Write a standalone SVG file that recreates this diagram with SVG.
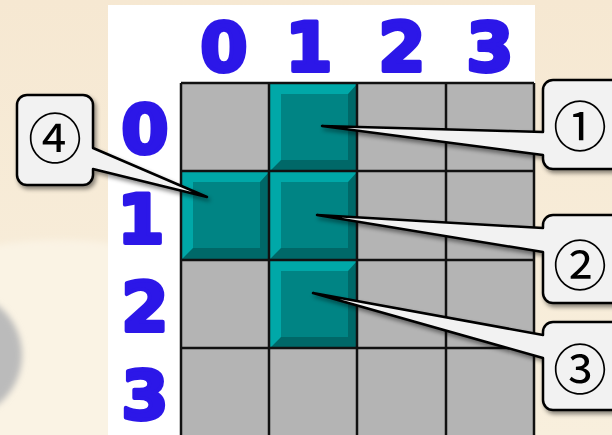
<svg xmlns="http://www.w3.org/2000/svg" width="612" height="435" viewBox="0 0 612 435">
<defs>
  <linearGradient id="bg" x1="0" y1="0" x2="0" y2="1">
    <stop offset="0" stop-color="#f6e8d2"/>
    <stop offset="1" stop-color="#f8efdd"/>
  </linearGradient>
  <filter id="blur" x="-50%" y="-50%" width="200%" height="200%"><feGaussianBlur stdDeviation="3"/></filter>
  <filter id="sh" x="-20%" y="-20%" width="140%" height="140%"><feDropShadow dx="2" dy="3" stdDeviation="2" flood-color="#000" flood-opacity="0.45"/></filter>
  <g id="teal">
    <rect x="0" y="0" width="87" height="87" fill="#006868"/>
    <polygon points="0,0 87,0 78,10 11,10 11,76 0,87" fill="#00a8a8"/>
    <rect x="11" y="10" width="67" height="66" fill="#008484"/>
  </g>
</defs>
<style>
  .lbl{font-family:"DejaVu Sans",sans-serif;font-weight:bold;font-size:68px;fill:#2c17e8;stroke:#2c17e8;stroke-width:4;stroke-linejoin:round;text-anchor:middle}
  .cell{fill:#b4b4b4}
  .grid{stroke:#111;stroke-width:2.5;fill:none}
  .box{fill:#f2f2f2;stroke:#000;stroke-width:2.5;stroke-linejoin:round;filter:url(#sh)}
  .num{font-family:"Noto Sans CJK JP","DejaVu Sans",sans-serif;font-size:54px;fill:#000;text-anchor:middle;dominant-baseline:central}
</style>
<!-- background -->
<rect x="0" y="0" width="612" height="435" fill="url(#bg)"/>
<ellipse cx="60" cy="520" rx="330" ry="280" fill="#faf3e4" filter="url(#blur)"/>
<circle cx="-41" cy="355" r="63" fill="#bbbbbb" filter="url(#blur)"/>
<rect x="108" y="5" width="427" height="430" fill="#ffffff"/>

<!-- labels -->
<g id="col-labels">
  <text class="lbl" x="224" y="71">0</text>
  <text class="lbl" x="309" y="71">1</text>
  <text class="lbl" x="402" y="71">2</text>
  <text class="lbl" x="490" y="71">3</text>
</g>
<g id="row-labels">
  <text class="lbl" x="145" y="153">0</text>
  <text class="lbl" x="141" y="243">1</text>
  <text class="lbl" x="145" y="331">2</text>
  <text class="lbl" x="145" y="419">3</text>
</g>

<!-- grid -->
<g id="grid">
  <rect class="cell" x="181" y="83" width="353" height="360"/>
  <use href="#teal" x="270" y="84"/>
  <use href="#teal" x="182" y="172"/>
  <use href="#teal" x="270" y="172"/>
  <use href="#teal" x="270" y="261"/>
  <path class="grid" d="M181,83 V440 M269,83 V440 M357,83 V440 M446,83 V440 M534,83 V440 M181,83 H534 M181,171 H534 M181,260 H534 M181,348 H534"/>
</g>

<!-- callouts (box + pointer) -->
<g id="connectors">
  <g id="callout1">
    <path class="box" d="M553,80 H625 V169 H553 A10,10 0 0 1 543,159 V155 L322,126 L543,132 V90 A10,10 0 0 1 553,80 Z"/>
    <text class="num" x="580" y="123">①</text>
  </g>
  <g id="callout2">
    <path class="box" d="M553,215 H625 V303 H553 A10,10 0 0 1 543,293 V252 L317,215 L543,228 V225 A10,10 0 0 1 553,215 Z"/>
    <text class="num" x="580" y="262">②</text>
  </g>
  <g id="callout3">
    <path class="box" d="M553,322 H625 V410 H553 A10,10 0 0 1 543,400 V358 L313,293 L543,335 V332 A10,10 0 0 1 553,322 Z"/>
    <text class="num" x="580" y="366">③</text>
  </g>
  <g id="callout4">
    <path class="box" d="M27,95 H83 A10,10 0 0 1 93,105 V148 L207,197 L93,169 V175 A10,10 0 0 1 83,185 H27 A10,10 0 0 1 17,175 V105 A10,10 0 0 1 27,95 Z"/>
    <text class="num" x="55" y="135">④</text>
  </g>
</g>
</svg>
